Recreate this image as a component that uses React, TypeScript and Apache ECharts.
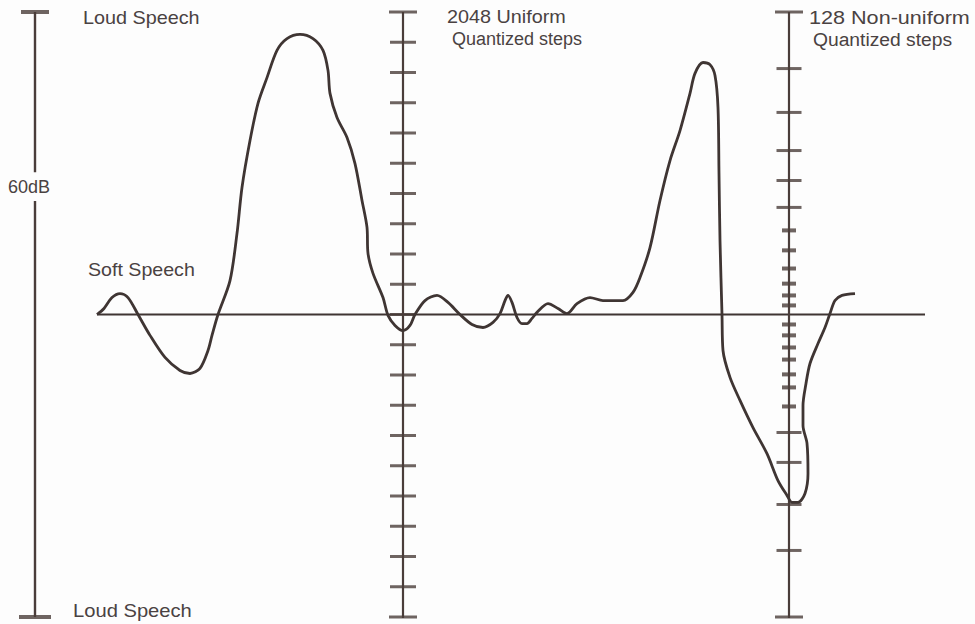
import React, { useEffect, useRef } from "react";
import * as echarts from "echarts";

// Waveform: time (arbitrary units across the figure) and normalised amplitude (±1 = loud speech, 0 = silence)
const waveTime = [
  97, 104, 112, 120, 128, 138, 150, 165, 180, 190, 200, 208, 212, 218, 230, 237, 242, 250, 258, 267,
  277, 287, 300, 313, 323, 328, 330, 337, 347, 355, 362, 367, 368, 373, 383, 388, 395, 403, 410, 415,
  425, 437, 448, 460, 472, 483, 493, 500, 505, 508, 512, 517, 522, 527, 532, 537, 548, 558, 567, 577,
  590, 603, 623, 633, 640, 650, 660, 670, 680, 690, 695, 703, 710, 715, 718, 719, 720, 722, 723, 730,
  740, 753, 767, 778, 787, 792, 798, 805, 808, 807, 803, 803, 806, 810, 818, 825, 830, 835, 842, 855,
];
const waveAmp = [
  0, 0.02, 0.056, 0.069, 0.056, 0, -0.069, -0.142, -0.185, -0.195, -0.178, -0.119, -0.069, 0, 0.112, 0.268, 0.42, 0.575, 0.698, 0.783,
  0.873, 0.912, 0.926, 0.912, 0.873, 0.807, 0.731, 0.651, 0.585, 0.499, 0.377, 0.288, 0.202, 0.136, 0.056, -0.003, -0.036, -0.053, -0.036, 0,
  0.046, 0.063, 0.04, 0, -0.033, -0.043, -0.026, 0.003, 0.046, 0.063, 0.04, -0.01, -0.03, -0.03, -0.013, 0.007, 0.036, 0.02, 0.003, 0.036,
  0.056, 0.046, 0.046, 0.073, 0.122, 0.221, 0.377, 0.509, 0.608, 0.731, 0.797, 0.833, 0.826, 0.79, 0.684, 0.466, 0.245, 0, -0.119, -0.208,
  -0.284, -0.374, -0.46, -0.549, -0.598, -0.621, -0.621, -0.592, -0.526, -0.426, -0.367, -0.301, -0.228, -0.162, -0.096, -0.043, 0.003, 0.046, 0.063, 0.069,
];

// Zero (silence) reference line extent in time units
const baselineStart = 97;
const baselineEnd = 925;

// 2048 uniform quantized steps: evenly spaced marks
const uniformTicks = [1, 0.9, 0.8, 0.7, 0.6, 0.5, 0.4, 0.3, 0.2, 0.1, 0, -0.1, -0.2, -0.3, -0.4, -0.5, -0.6, -0.7, -0.8, -0.9, -1];

// 128 non-uniform quantized steps: marks crowd near zero
const nonUniformTicks = [
  1, 0.813, 0.668, 0.542, 0.443, 0.354, 0.278, 0.212, 0.152, 0.102, 0.063, 0.03,
  -0.033, -0.069, -0.109, -0.149, -0.198, -0.241, -0.304, -0.39, -0.489, -0.628, -0.78, -1,
];

// 60 dB range scale (gap around its label)
const rangeUpper = [1, 0.47];
const rangeLower = [0.375, -1];

// positions of the three vertical scales on the time axis
const SCALE_X = { left: 35, mid: 403, right: 789 };

const INK = "#3f3533";
const SCALE_INK = "#4a3d3a";
const TEXT = "#4a4242";
const FONT = '"Liberation Sans", Arial, sans-serif';

export default function App() {
  const ref = useRef<HTMLDivElement>(null);

  useEffect(() => {
    const chart = echarts.init(ref.current!, undefined, { renderer: "svg" });

    const vline = (x: number, from: number, to: number, w: number) => ({
      type: "line",
      data: [[x, from], [x, to]],
      symbol: "none",
      silent: true,
      lineStyle: { color: SCALE_INK, width: w },
      z: 2,
    });

    const midTickData = uniformTicks.map((v) => ({
      value: [SCALE_X.mid, v],
      symbolSize: Math.abs(v) === 1 ? [28, 3] : [26, 3],
    }));
    const rightTickData = nonUniformTicks.map((v) => ({
      value: [SCALE_X.right, v],
      symbolSize: Math.abs(v) === 1 ? [28, 3] : Math.abs(v) < 0.33 ? [14, 4] : [25, 3],
    }));
    const leftBars = [
      { value: [SCALE_X.left, rangeUpper[0]], symbolSize: [28, 4] },
      { value: [SCALE_X.left, rangeLower[1]], symbolSize: [32, 4] },
    ];

    const text = (t: string, x: number, y: number, sx: number) => ({
      type: "text",
      x,
      y,
      scaleX: sx,
      silent: true,
      style: { text: t, fill: TEXT, fontSize: 18, fontFamily: FONT, align: "left", verticalAlign: "middle" },
    });

    chart.setOption({
      animation: false,
      backgroundColor: "#fdfdfd",
      grid: { left: 0, right: 0, top: 12, bottom: 7 },
      xAxis: { type: "value", min: 0, max: 975, show: false },
      yAxis: { type: "value", min: -1, max: 1, show: false },
      series: [
        {
          type: "line",
          data: [[baselineStart, 0], [baselineEnd, 0]],
          symbol: "none",
          silent: true,
          lineStyle: { color: INK, width: 2.2 },
          z: 1,
        },
        vline(SCALE_X.left, rangeUpper[0], rangeUpper[1], 2.4),
        vline(SCALE_X.left, rangeLower[0], rangeLower[1], 2.4),
        vline(SCALE_X.mid, 1, -1.01, 2.2),
        vline(SCALE_X.right, 1, -1.01, 2.2),
        {
          type: "scatter",
          symbol: "rect",
          silent: true,
          itemStyle: { color: SCALE_INK },
          data: [...midTickData, ...rightTickData, ...leftBars],
          z: 3,
        },
        {
          type: "line",
          data: waveTime.map((t, i) => [t, waveAmp[i]]),
          symbol: "none",
          smooth: 0.3,
          silent: true,
          lineStyle: { color: INK, width: 2.8 },
          z: 4,
        },
      ],
      graphic: [
        text("Loud Speech", 83, 18, 1.1),
        text("Loud Speech", 73, 611, 1.12),
        text("Soft Speech", 88, 270, 1.09),
        text("60dB", 8, 187, 1.0),
        text("2048 Uniform", 447, 17, 1.1),
        text("Quantized steps", 452, 39, 1.0),
        text("128 Non-uniform", 809, 18, 1.2),
        text("Quantized steps", 813, 40, 1.07),
      ],
    });

    return () => chart.dispose();
  }, []);

  return (
    <div
      ref={ref}
      style={{ position: "fixed", left: 0, top: 0, width: 975, height: 624, background: "#fdfdfd" }}
    />
  );
}
